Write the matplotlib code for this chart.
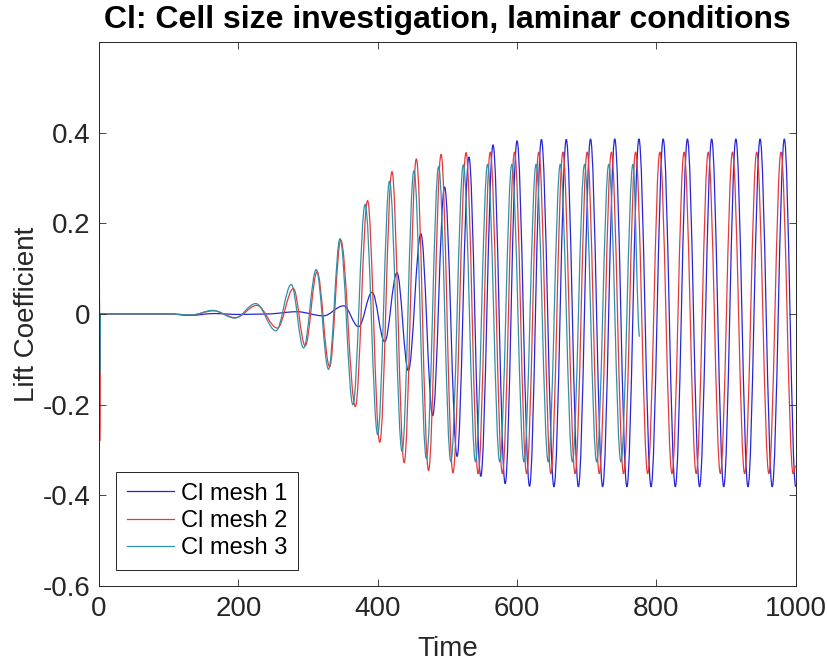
import matplotlib
matplotlib.use("Agg")
import matplotlib.pyplot as plt
from matplotlib.path import Path
from matplotlib.patches import PathPatch
from matplotlib.lines import Line2D

plt.rcParams['font.family'] = ['Liberation Sans', 'DejaVu Sans']

# extrema: (time, lift coefficient)
mesh1_t = [0, 0.4, 1.0, 2.0, 100, 131, 165, 200, 240, 284, 322, 351, 372.6, 392, 410,
           427.7, 444, 462, 479, 496, 514, 531, 548, 565.6, 583, 600, 618, 635, 653,
           670.7, 688.1, 705.5, 722.9, 740.3, 757.7, 775.0, 792.4, 809.8, 827.2, 844.6,
           862.0, 879.4, 896.7, 914.1, 931.5, 948.9, 966.3, 983.7, 1000]
mesh1_cl = [0, 0.08, -0.1, 0, 0, -0.003, 0.001, -0.001, 0.0, 0.005, -0.004, 0.018, -0.028,
            0.048, -0.061, 0.091, -0.125, 0.177, -0.224, 0.28, -0.314, 0.346, -0.358,
            0.373, -0.374, 0.382, -0.38, 0.385, -0.381, 0.385, -0.381, 0.386, -0.381,
            0.386, -0.381, 0.386, -0.381, 0.386, -0.381, 0.386, -0.381, 0.386, -0.381,
            0.386, -0.381, 0.386, -0.381, 0.386, -0.381]

mesh2_t = [0, 0.4, 1.0, 2.0, 100, 133, 164, 196, 226.5, 256, 279, 296, 313, 331, 347, 368,
           385.5, 403, 420.5, 438, 455.5, 473, 491, 508, 526.9, 544.2, 561.6, 579.0,
           596.4, 613.8, 631.2, 648.6, 665.9, 683.3, 700.7, 718.1, 735.5, 752.9, 770.2,
           787.6, 805.0, 822.4, 839.8, 857.2, 874.5, 891.9, 909.3, 926.7, 944.1, 961.5,
           978.9, 996.3, 1000]
mesh2_cl = [0, 0.224, -0.28, 0, 0, -0.002, 0.007, -0.008, 0.019, -0.031, 0.056, -0.07,
            0.093, -0.116, 0.163, -0.204, 0.25, -0.283, 0.314, -0.328, 0.342, -0.345,
            0.352, -0.35, 0.356, -0.352, 0.357, -0.352, 0.357, -0.352, 0.357, -0.352,
            0.357, -0.352, 0.357, -0.352, 0.357, -0.352, 0.357, -0.352, 0.357, -0.352,
            0.357, -0.352, 0.357, -0.352, 0.357, -0.352, 0.357, -0.352, 0.357, -0.352,
            -0.335]

mesh3_t = [0, 0.4, 1.0, 2.0, 100, 133, 163, 195, 225, 254, 276, 293.6, 311.8, 329.5, 346,
           364.5, 382, 400, 417, 435, 452, 470, 487.5, 505, 523, 540.4, 557.8, 575.2,
           592.6, 610.0, 627.4, 644.8, 662.1, 679.5, 696.9, 714.3, 731.7, 749.1, 766.4, 776]
mesh3_cl = [0, 0.107, -0.13, 0, 0, -0.002, 0.008, -0.009, 0.023, -0.037, 0.065, -0.075,
            0.098, -0.122, 0.166, -0.2, 0.242, -0.266, 0.293, -0.303, 0.316, -0.319,
            0.325, -0.325, 0.329, -0.326, 0.33, -0.326, 0.33, -0.326, 0.33, -0.326,
            0.33, -0.326, 0.33, -0.326, 0.33, -0.326, 0.33, -0.05]

labels = ["Cl mesh 1", "Cl mesh 2", "Cl mesh 3"]
colors = ["#2626d8", "#e63a3a", "#3190a8"]


def wave_path(t, v):
    # smooth half-wave bezier between successive extrema (flat tangents at peaks)
    verts = [(t[0], v[0])]
    codes = [Path.MOVETO]
    for i in range(1, len(t)):
        d = (t[i] - t[i - 1]) * 0.363
        verts += [(t[i - 1] + d, v[i - 1]), (t[i] - d, v[i]), (t[i], v[i])]
        codes += [Path.CURVE4] * 3
    return Path(verts, codes)


fig = plt.figure(figsize=(8.27, 6.62), dpi=100)
ax = fig.add_axes([99 / 827, 76 / 662, 696.7 / 827, 544 / 662])

series = [(mesh1_t, mesh1_cl), (mesh2_t, mesh2_cl), (mesh3_t, mesh3_cl)]
handles = []
for (t, v), c, lab in zip(series, colors, labels):
    ax.add_patch(PathPatch(wave_path(t, v), facecolor="none", edgecolor=c, lw=0.9))
    handles.append(Line2D([], [], color=c, lw=0.9, label=lab))

ax.set_xlim(0, 1000)
ax.set_ylim(-0.6, 0.6)
ax.set_xticks([0, 200, 400, 600, 800, 1000])
ax.set_yticks([-0.6, -0.4, -0.2, 0, 0.2, 0.4])
ax.set_yticklabels(["-0.6", "-0.4", "-0.2", "0", "0.2", "0.4"])
ax.tick_params(direction="in", top=True, right=True, labelsize=20,
               colors="#262626", length=5, width=0.6)
ax.tick_params(axis="x", pad=7)
ax.tick_params(axis="y", pad=6)
for s in ax.spines.values():
    s.set_color("#262626")
    s.set_linewidth(0.7)

ax.set_title("Cl: Cell size investigation, laminar conditions", fontsize=23,
             fontweight="bold", pad=10)
ax.set_xlabel("Time", fontsize=20, color="#262626", labelpad=10)
ax.set_ylabel("Lift Coefficient", fontsize=20, color="#262626", labelpad=2)

leg = ax.legend(handles=handles, loc="lower left", bbox_to_anchor=(0.025, 0.03),
                fontsize=17, fancybox=False, framealpha=1, edgecolor="#262626",
                handlelength=2.0, handletextpad=0.3, labelspacing=0.22,
                borderpad=0.45, borderaxespad=0)
leg.get_frame().set_linewidth(0.7)

fig.savefig("out.png", dpi=100)
